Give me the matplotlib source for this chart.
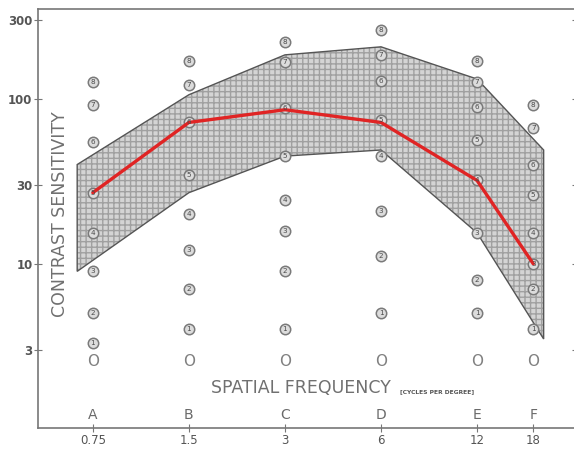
import numpy as np
import matplotlib
matplotlib.use('Agg')
import matplotlib.pyplot as plt

# spatial frequencies (cycles per degree) and their row letters
freqs = [0.75, 1.5, 3, 6, 12, 18]
letters = ['A', 'B', 'C', 'D', 'E', 'F']
freq_labels = ['0.75', '1.5', '3', '6', '12', '18']

# mean contrast sensitivity (red curve)
mean_cs = [27, 72, 86, 72, 32, 10]

# normal range band
band_freq = [0.67, 1.5, 3, 6, 12, 19.4]
band_upper = [40, 106, 185, 207, 132, 49]
band_lower = [9, 27, 45, 49, 15.4, 3.5]

# patch levels 1..8 for every column
levels_A = [3.3, 5.05, 9.0, 15.4, 27, 55, 92, 127]
levels_B = [4.0, 7.0, 12.2, 20, 34.6, 72, 122, 170]
levels_C = [4.0, 9.0, 15.8, 24.4, 45, 88, 168, 221]
levels_D = [5.05, 11.2, 21, 45, 74.6, 128, 185, 262]
levels_E = [5.05, 8.0, 15.4, 32.3, 56.5, 89.5, 127, 170]
levels_F = [4.0, 7.0, 10, 15.4, 26, 40, 67, 92]
zero_level = 2.55

y_ticks = [3, 10, 30, 100, 300]

fig = plt.figure(figsize=(5.74, 4.49), dpi=100)
ax = fig.add_axes([38 / 574, 21 / 449, 538 / 574, 419 / 449])
ax.set_xscale('log')
ax.set_yscale('log')
ax.set_xlim(0.505, 24.5)
ax.set_ylim(1.01, 351)

grey = '#777777'
for side in ['left', 'top', 'bottom']:
    ax.spines[side].set_color(grey)
    ax.spines[side].set_linewidth(1.2)
ax.spines['right'].set_visible(False)

# band
px = list(band_freq) + list(band_freq[::-1])
py = list(band_upper) + list(band_lower[::-1])
ax.fill(px, py, facecolor='#d4d4d4', edgecolor='#a0a0a0', hatch='+++', lw=0, zorder=1)
ax.fill(px, py, facecolor='none', edgecolor='#555555', lw=1.0, zorder=2)

# red mean curve
ax.plot(freqs, mean_cs, color='#e02424', lw=2.4, zorder=4, solid_capstyle='round')

# patch circles
columns = [levels_A, levels_B, levels_C, levels_D, levels_E, levels_F]
for f, lev in zip(freqs, columns):
    ax.plot([f] * len(lev), lev, 'o', ms=7.5, mfc='#dcdcdc', mec='#7a7a7a', mew=1.1, zorder=3)
    for i, v in enumerate(lev):
        ax.text(f, v, str(i + 1), fontsize=5.2, color='#4a4a4a', ha='center', va='center', zorder=5)
    ax.text(f, zero_level, 'O', fontsize=11, color='#808080', ha='center', va='center')

# ticks
ax.xaxis.set_minor_locator(matplotlib.ticker.NullLocator())
ax.yaxis.set_minor_locator(matplotlib.ticker.NullLocator())
ax.set_xticks(freqs)
ax.set_xticklabels(freq_labels)
ax.set_yticks(y_ticks)
ax.set_yticklabels([str(t) for t in y_ticks])
ax.tick_params(axis='x', direction='inout', length=6, color=grey, labelsize=8.5,
               labelcolor='#555555', pad=1)
ax.tick_params(axis='y', direction='inout', length=6, color=grey, labelsize=8.5,
               labelcolor='#555555', pad=1, right=True)
for lab in ax.get_yticklabels():
    lab.set_fontweight('bold')

# letters above the axis
for f, l in zip(freqs, letters):
    ax.annotate(l, (f, 0), xycoords=('data', 'axes fraction'), xytext=(0, 4),
                textcoords='offset points', ha='center', va='bottom', fontsize=10, color='#6a6a6a')

# axis titles
ax.text(0.041, 0.51, 'CONTRAST SENSITIVITY', transform=ax.transAxes, rotation=90,
        ha='center', va='center', fontsize=12.5, color='#707070')
fig.text(301 / 574, 1 - 388 / 449, 'SPATIAL FREQUENCY', ha='center', va='center',
         fontsize=12.5, color='#707070')
fig.text(400 / 574, 1 - 392 / 449, '[CYCLES PER DEGREE]', ha='left', va='center',
         fontsize=4.3, color='#555555', fontweight='bold')

fig.savefig('out.png', dpi=100)
